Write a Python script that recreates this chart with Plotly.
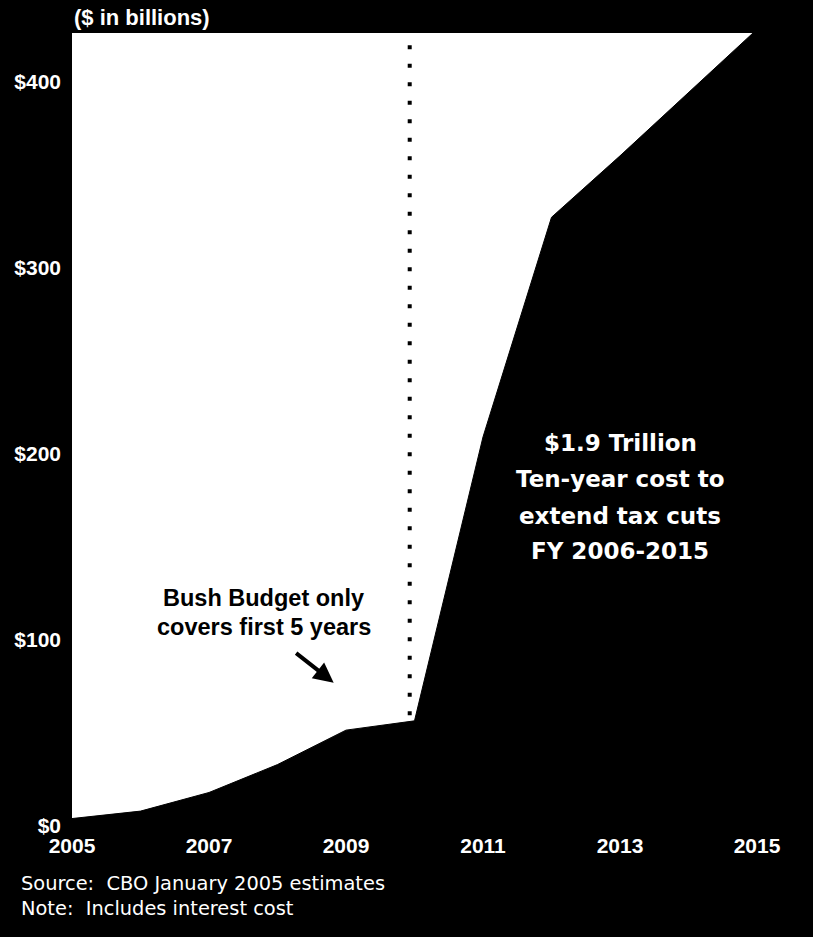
import plotly.graph_objects as go

# Cost of extending the tax cuts, $ billions (CBO, January 2005)
years = [2005, 2006, 2007, 2008, 2009, 2010, 2011, 2012, 2013, 2014, 2015]
cost = [4, 8, 18, 33, 51.5, 56.5, 209, 327, 360, 394, 428]

x_ticks = [2005, 2007, 2009, 2011, 2013, 2015]
y_ticks = [0, 100, 200, 300, 400]
y_tick_text = ["$0", "$100", "$200", "$300", "$400"]

budget_cutoff = 2009.93
y_top = 426

bold = dict(family="Liberation Sans, Arial, sans-serif", weight="bold")
wide_bold = dict(family="DejaVu Sans, sans-serif", weight="bold")
plain = dict(family="DejaVu Sans, sans-serif")


def val(py):
    # vertical pixel position inside the plot -> dollars
    return (826 - py) / 1.865


fig = go.Figure()
fig.add_trace(go.Scatter(
    x=years, y=cost, mode="lines", fill="tozeroy",
    line=dict(color="black", width=1), fillcolor="black",
    hoverinfo="skip", showlegend=False,
))

# dotted marker where the five-year budget window ends
fig.add_shape(type="line", xref="x", yref="y",
              x0=budget_cutoff, x1=budget_cutoff, y0=cost[5] + 3, y1=y_top - 1,
              line=dict(color="black", width=4, dash="4px,14.5px"))

annotations = [
    dict(text="($ in billions)", xref="x", yref="paper", x=2005, y=1,
         xanchor="left", yanchor="middle", yshift=16, showarrow=False,
         font=dict(size=22, color="white", **bold)),
    dict(text="Source:  CBO January 2005 estimates", xref="paper", yref="paper",
         x=-0.077, y=-0.072, xanchor="left", yanchor="middle", showarrow=False,
         font=dict(size=19.4, color="white", **plain)),
    dict(text="Note:  Includes interest cost", xref="paper", yref="paper",
         x=-0.077, y=-0.1035, xanchor="left", yanchor="middle", showarrow=False,
         font=dict(size=19.4, color="white", **plain)),
    dict(text="Bush Budget only", xref="x", yref="y", x=2007.8, y=val(598),
         xanchor="center", yanchor="middle", showarrow=False,
         font=dict(size=23.5, color="black", **bold)),
    dict(text="covers first 5 years", xref="x", yref="y", x=2007.8, y=val(627),
         xanchor="center", yanchor="middle", showarrow=False,
         font=dict(size=23.5, color="black", **bold)),
    dict(text="", xref="x", yref="y", x=2008.82, y=77.0,
         axref="x", ayref="y", ax=2008.25, ay=93.5, showarrow=True,
         arrowhead=2, arrowsize=1.0, arrowwidth=4, arrowcolor="black"),
]

right_lines = ["$1.9 Trillion", "Ten-year cost to", "extend tax cuts", "FY 2006-2015"]
right_y = [442, 478, 515, 550]
for line, py in zip(right_lines, right_y):
    annotations.append(dict(
        text=line, xref="x", yref="y", x=2013.0, y=val(py),
        xanchor="center", yanchor="middle", showarrow=False,
        font=dict(size=23, color="white", **wide_bold)))

fig.update_layout(
    width=813, height=937,
    margin=dict(l=72, r=56, t=33, b=111),
    paper_bgcolor="black", plot_bgcolor="white",
    annotations=annotations,
    xaxis=dict(range=[2005, 2015], tickvals=x_ticks, ticktext=[str(v) for v in x_ticks],
               showgrid=False, zeroline=False, showline=False, ticks="",
               tickfont=dict(size=21, color="white", **bold), ticklabelstandoff=5),
    yaxis=dict(range=[0, y_top], tickvals=y_ticks, ticktext=y_tick_text,
               showgrid=False, zeroline=False, showline=False, ticks="",
               tickfont=dict(size=21, color="white", **bold), ticklabelstandoff=10),
)

fig.write_html("out.html")
